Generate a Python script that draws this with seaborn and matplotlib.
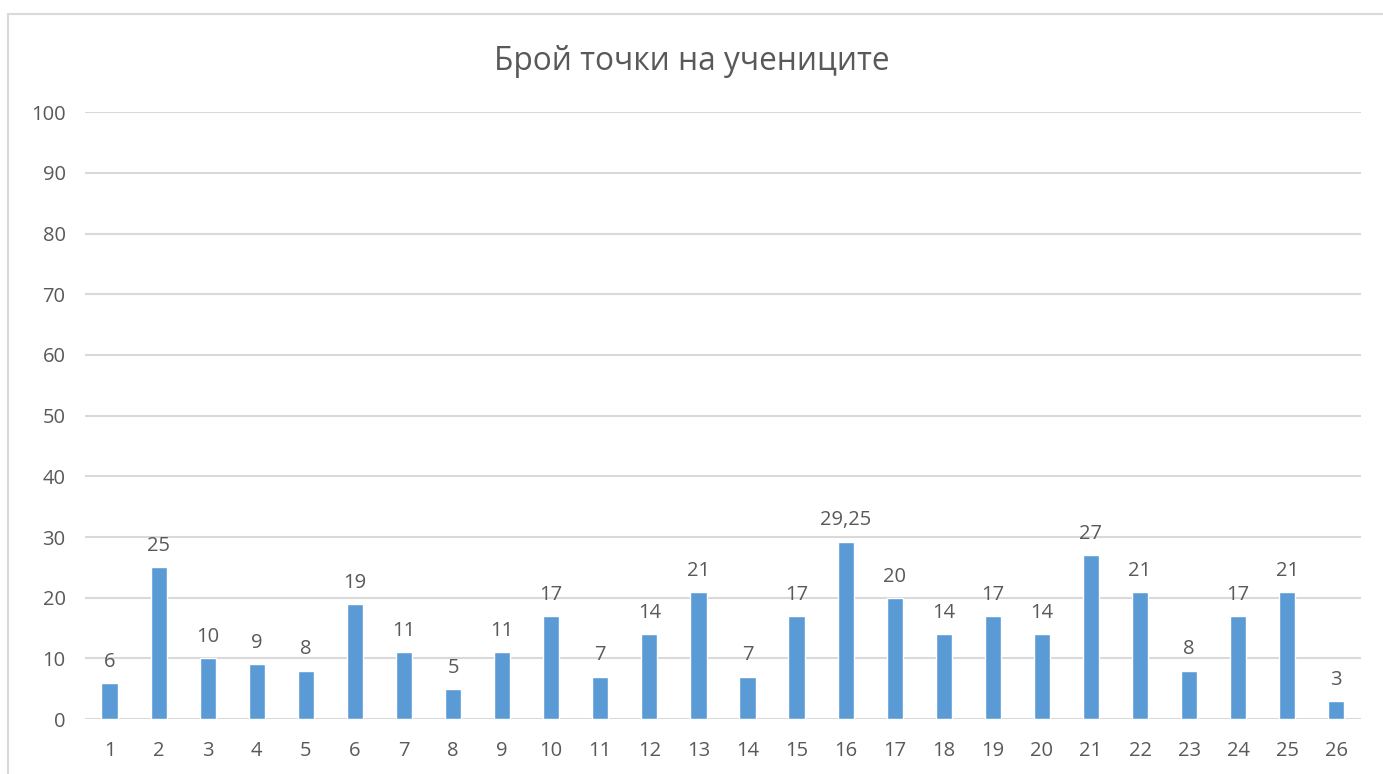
import pandas as pd
import matplotlib.pyplot as plt
import seaborn as sns
from matplotlib.patches import Rectangle

# chart data
students = [str(i) for i in range(1, 27)]
points = [6, 25, 10, 9, 8, 19, 11, 5, 11, 17, 7, 14, 21, 7, 17, 29.25,
          20, 14, 17, 14, 27, 21, 8, 17, 21, 3]
title = "Брой точки на учениците"

BAR_COLOR = "#5B9BD5"
TEXT_COLOR = "#595959"
GRID_COLOR = "#D9D9D9"

sns.set_theme(style="white")
plt.rcParams["font.family"] = ["Open Sans", "DejaVu Sans"]

df = pd.DataFrame({"student": students, "points": points})

fig = plt.figure(figsize=(13.83, 7.74), dpi=100)
ax = fig.add_axes([0.0615, 0.071, 0.9225, 0.784])

sns.barplot(data=df, x="student", y="points", color=BAR_COLOR,
            width=0.33, saturation=1, ax=ax)

ax.set_ylim(0, 100)
ax.set_yticks(range(0, 101, 10))
ax.set_xlim(-0.5, len(students) - 0.5)
ax.yaxis.grid(True, color=GRID_COLOR, linewidth=1.5)
ax.set_axisbelow(True)
for s in ax.spines.values():
    s.set_visible(False)
ax.tick_params(axis="both", length=0, labelsize=14.5, colors=TEXT_COLOR)
ax.tick_params(axis="y", pad=14)
ax.tick_params(axis="x", pad=16)
ax.set_xlabel("")
ax.set_ylabel("")

# value labels with decimal comma
for i, v in enumerate(points):
    txt = f"{v:g}".replace(".", ",")
    ax.annotate(txt, (i, v), xytext=(0, 8), textcoords="offset points",
                ha="center", va="bottom", fontsize=14.5, color=TEXT_COLOR)

fig.text(0.5, 0.921, title, ha="center", va="center", fontsize=22.8,
         color=TEXT_COLOR)

# chart frame
fig.patches.append(Rectangle((8 / 1383, -0.1), 1.2, 1.1 - 14 / 774,
                             transform=fig.transFigure, fill=False,
                             edgecolor=GRID_COLOR, linewidth=1.5))

fig.savefig("out.png", dpi=100, facecolor="white")
